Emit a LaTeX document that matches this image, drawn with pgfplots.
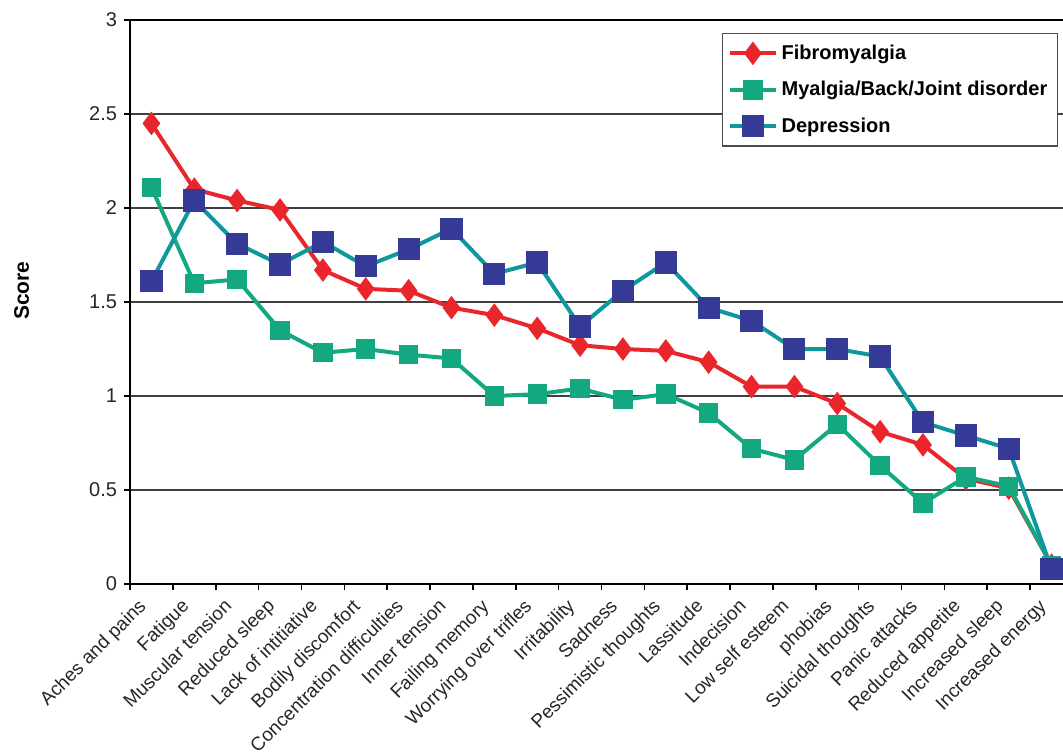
\documentclass[border=0pt]{standalone}
\usepackage{pgfplots}
\pgfplotsset{compat=1.18}
\usepackage{fontspec}
\setmainfont{Liberation Sans}

\definecolor{fibro}{RGB}{234,38,45}
\definecolor{myal}{RGB}{20,168,128}
\definecolor{depline}{RGB}{14,152,158}
\definecolor{depmark}{RGB}{52,58,150}

\begin{document}
\begin{tikzpicture}
\begin{axis}[
    at={(65pt,84pt)}, anchor=south west,
    scale only axis,
    width=471.5pt, height=282pt,
    xmin=-0.5, xmax=21.5,
    ymin=0, ymax=3,
    ytick={0,0.5,...,3},
    yticklabels={0,0.5,1,1.5,2,2.5,3},
    xtick={0,...,21},
    xticklabels={Aches and pains, Fatigue, Muscular tension, Reduced sleep,
        Lack of intitiative, Bodily discomfort, Concentration difficulties,
        Inner tension, Failing memory, Worrying over trifles, Irritability,
        Sadness, Pessimistic thoughts, Lassitude, Indecision, Low self esteem,
        phobias, Suicidal thoughts, Panic attacks, Reduced appetite,
        Increased sleep, Increased energy},
    minor xtick={-0.5,0.5,...,21.5},
    xtick pos=left, ytick pos=left,
    tick align=outside,
    major x tick style={draw=none},
    minor x tick style={black, line width=0.8pt},
    major y tick style={black, line width=0.6pt},
    major tick length=3pt, minor tick length=3pt,
    x tick label style={xshift=-5pt, rotate=45, anchor=north east,
        inner xsep=4pt, inner ysep=1pt,
        font=\fontsize{9.5}{11}\selectfont, text=black!85},
    y tick label style={font=\fontsize{10}{12}\selectfont, text=black!85},
    /pgf/number format/assume math mode=true,
    ymajorgrids,
    major grid style={black!75, line width=0.6pt},
    axis line style={black, line width=1.2pt},
    ylabel={\textbf{Score}},
    ylabel style={at={(axis description cs:-0.115,0.52)}, anchor=center,
        font=\fontsize{10.5}{12}\selectfont},
    legend style={at={(axis description cs:0.984,0.977)}, anchor=north east,
        draw=black!70, line width=0.6pt, inner xsep=3pt, inner ysep=3.5pt,
        font=\fontsize{10}{12}\selectfont\bfseries,
        row sep=5.5pt, cells={anchor=west}},
    legend image code/.code={
        \draw[#1, mark repeat=2, mark phase=2] plot coordinates {(0cm,0cm) (0.4cm,0cm) (0.8cm,0cm)};},
    clip=false,
]
\addplot[color=fibro, line width=2pt, mark=diamond*, mark size=5.5pt,
    mark options={fill=fibro, draw=fibro, line width=0.5pt}] coordinates {
    (0,2.45) (1,2.10) (2,2.04) (3,1.99) (4,1.67) (5,1.57) (6,1.56) (7,1.47)
    (8,1.43) (9,1.36) (10,1.27) (11,1.25) (12,1.24) (13,1.18) (14,1.05)
    (15,1.05) (16,0.96) (17,0.81) (18,0.74) (19,0.56) (20,0.51) (21,0.10)
};
\addplot[color=myal, line width=2pt, mark=square*, mark size=4.6pt,
    mark options={fill=myal, draw=myal, line width=0.5pt}] coordinates {
    (0,2.11) (1,1.60) (2,1.62) (3,1.35) (4,1.23) (5,1.25) (6,1.22) (7,1.20)
    (8,1.00) (9,1.01) (10,1.04) (11,0.98) (12,1.01) (13,0.91) (14,0.72)
    (15,0.66) (16,0.85) (17,0.63) (18,0.43) (19,0.57) (20,0.52) (21,0.10)
};
\addplot[color=depline, line width=2pt, mark=square*, mark size=5.3pt,
    mark options={fill=depmark, draw=depmark, line width=0.5pt}] coordinates {
    (0,1.61) (1,2.04) (2,1.81) (3,1.70) (4,1.82) (5,1.69) (6,1.78) (7,1.89)
    (8,1.65) (9,1.71) (10,1.37) (11,1.56) (12,1.71) (13,1.47) (14,1.40)
    (15,1.25) (16,1.25) (17,1.21) (18,0.86) (19,0.79) (20,0.72) (21,0.08)
};
\legend{Fibromyalgia, Myalgia/Back/Joint disorder, Depression}
\end{axis}
\pgfresetboundingbox
\useasboundingbox (0,0) rectangle (531.5pt,376pt);
\end{tikzpicture}
\end{document}
